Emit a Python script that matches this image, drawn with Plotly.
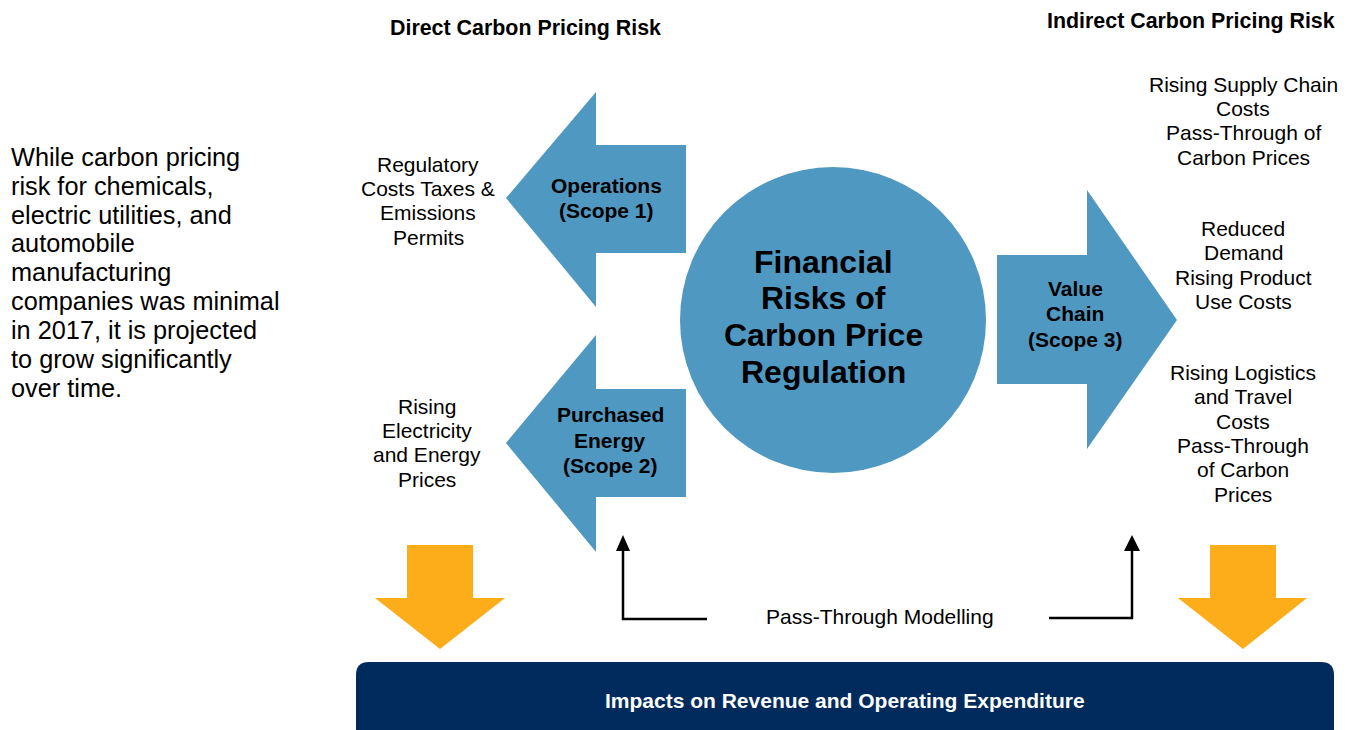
import plotly.graph_objects as go

# ---------------- data (text content) ----------------
header_texts = ["Direct Carbon Pricing Risk", "Indirect Carbon Pricing Risk"]
intro_lines = ["While carbon pricing", "risk for chemicals,", "electric utilities, and",
               "automobile", "manufacturing", "companies was minimal",
               "in 2017, it is projected", "to grow significantly", "over time."]
direct_risk_lines = [["Regulatory", "Costs Taxes &", "Emissions", "Permits"],
                     ["Rising", "Electricity", "and Energy", "Prices"]]
scope_labels = [["Operations", "(Scope 1)"],
                ["Purchased", "Energy", "(Scope 2)"],
                ["Value", "Chain", "(Scope 3)"]]
center_lines = ["Financial", "Risks of", "Carbon Price", "Regulation"]
indirect_risk_lines = [["Rising Supply Chain", "Costs", "Pass-Through of", "Carbon Prices"],
                       ["Reduced", "Demand", "Rising Product", "Use Costs"],
                       ["Rising Logistics", "and Travel", "Costs", "Pass-Through", "of Carbon", "Prices"]]
modelling_label = "Pass-Through Modelling"
impact_label = "Impacts on Revenue and Operating Expenditure"

# ---------------- layout geometry / styles ----------------
W, H = 1356, 730
BLUE = "#4F98C2"
ORANGE = "#FDAC1A"
NAVY = "#002B5C"
FONT = "Liberation Sans, Arial, sans-serif"

blue_arrows = [
    [(506, 198), (596, 92), (596, 145), (686, 145), (686, 253), (596, 253), (596, 307)],
    [(506, 443), (596, 335), (596, 389), (686, 389), (686, 497), (596, 497), (596, 552)],
    [(997, 255), (1087, 255), (1087, 190), (1177, 320), (1087, 449), (1087, 384), (997, 384)],
]
orange_arrows = [
    [(407, 545), (473, 545), (473, 598), (505, 598), (440, 649), (375, 598), (407, 598)],
    [(1210, 545), (1276, 545), (1276, 598), (1307, 598), (1243, 649), (1178, 598), (1210, 598)],
]
elbow_lines = [[(707, 619), (623, 619), (623, 548)], [(1049, 618), (1132, 618), (1132, 548)]]
elbow_heads = [[(616, 551), (623, 535), (630, 551)], [(1124, 551), (1132, 535), (1140, 551)]]

fig = go.Figure()


def poly(pts, color):
    xs = [p[0] for p in pts] + [pts[0][0]]
    ys = [p[1] for p in pts] + [pts[0][1]]
    fig.add_trace(go.Scatter(x=xs, y=ys, mode="lines", fill="toself", fillcolor=color,
                             line=dict(width=0, color=color), hoverinfo="skip", showlegend=False))


for a in blue_arrows:
    poly(a, BLUE)
for a in orange_arrows:
    poly(a, ORANGE)
for ln in elbow_lines:
    fig.add_trace(go.Scatter(x=[p[0] for p in ln], y=[p[1] for p in ln], mode="lines",
                             line=dict(width=2.5, color="black"), hoverinfo="skip", showlegend=False))
for hd in elbow_heads:
    poly(hd, "black")

# circle
fig.add_shape(type="circle", xref="x", yref="y", x0=680, x1=986, y0=167, y1=473,
              fillcolor=BLUE, line=dict(width=0), layer="below")

# rounded navy bar
r = 13
x0, x1, y0, y1 = 356, 1334, 662, 745
path = (f"M {x0+r},{y0} L {x1-r},{y0} Q {x1},{y0} {x1},{y0+r} L {x1},{y1} "
        f"L {x0},{y1} L {x0},{y0+r} Q {x0},{y0} {x0+r},{y0} Z")
fig.add_shape(type="path", xref="x", yref="y", path=path, fillcolor=NAVY, line=dict(width=0),
              layer="below")


def label(text, x, y, size, bold=False, color="black", anchor="center"):
    t = f"<b>{text}</b>" if bold else text
    fig.add_annotation(x=x, y=y, xref="x", yref="y", text=t, showarrow=False,
                       xanchor=anchor, yanchor="middle",
                       font=dict(family=FONT, size=size, color=color))


def stack(lines, x, ys, size, bold=False, color="black", anchor="center"):
    for t, y in zip(lines, ys):
        label(t, x, y, size, bold, color, anchor)


label(header_texts[0], 525, 28, 21.4, bold=True)
label(header_texts[1], 1191, 21, 21.4, bold=True)

stack(intro_lines, 9, [157, 186, 215, 243, 272, 301, 330, 359, 388], 25.3, anchor="left")

stack(direct_risk_lines[0], 428, [164, 188, 212, 237], 21)
stack(direct_risk_lines[1], 427, [406, 430, 454, 479], 21)

stack(scope_labels[0], 606, [185, 210], 21, bold=True)
stack(scope_labels[1], 610, [414, 440, 465], 21, bold=True)
stack(scope_labels[2], 1075, [288, 313, 339], 21, bold=True)

stack(center_lines, 823, [262, 298, 335, 372], 32, bold=True)

stack(indirect_risk_lines[0], 1243, [84, 108, 132, 157], 21)
stack(indirect_risk_lines[1], 1243, [228, 252, 277, 301], 21)
stack(indirect_risk_lines[2], 1243, [372, 396, 421, 445, 469, 494], 21)

label(modelling_label, 880, 616, 21)
label(impact_label, 845, 700, 21, bold=True, color="white")

fig.update_xaxes(range=[0, W], visible=False, fixedrange=True)
fig.update_yaxes(range=[H, 0], visible=False, fixedrange=True)
fig.update_layout(width=W, height=H, margin=dict(l=0, r=0, t=0, b=0),
                  paper_bgcolor="white", plot_bgcolor="white", showlegend=False)

fig.write_html("out.html", config={"displayModeBar": False},
               post_script="document.body.style.margin='0';document.body.style.overflow='hidden';")
